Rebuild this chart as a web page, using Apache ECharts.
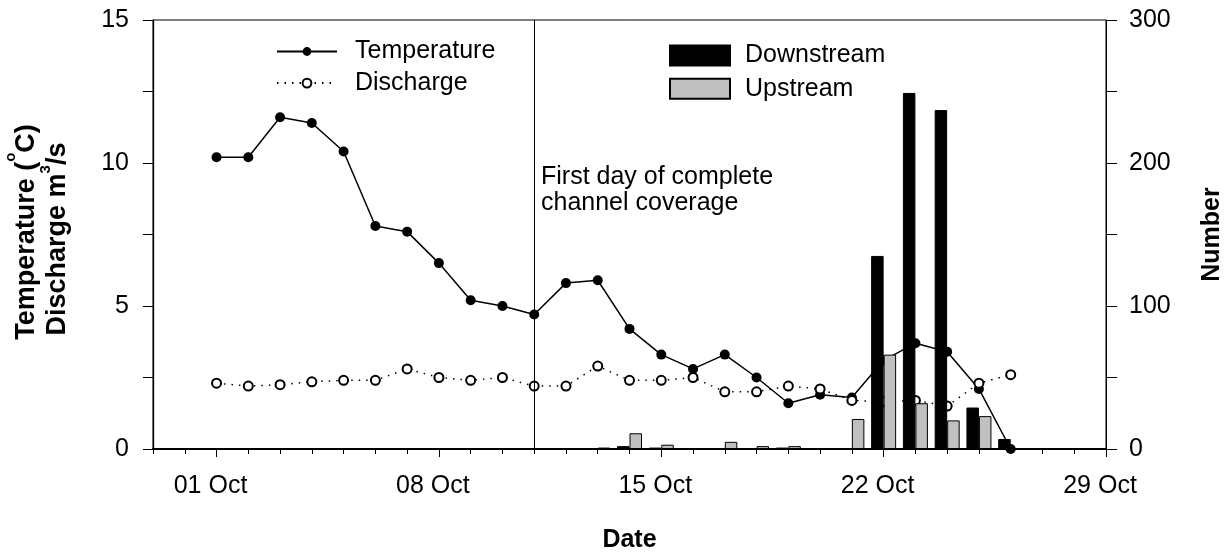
<!DOCTYPE html>
<html>
<head>
<meta charset="utf-8">
<script src="https://cdn.jsdelivr.net/npm/echarts@6/dist/echarts.min.js"></script>
<style>
  html, body { margin: 0; padding: 0; background: #fff; }
  #chart { width: 1231px; height: 552px; }
</style>
</head>
<body>
<div id="chart"></div>
<script>
// day of October for each daily reading
const days = [1, 2, 3, 4, 5, 6, 7, 8, 9, 10, 11, 12, 13, 14, 15, 16, 17, 18, 19, 20, 21, 22, 23, 24, 25, 26];
const temperature = [10.2, 10.2, 11.6, 11.4, 10.4, 7.8, 7.6, 6.5, 5.2, 5.0, 4.7, 5.8, 5.9, 4.2, 3.3, 2.8, 3.3, 2.5, 1.6, 1.9, 1.8, 3.1, 3.7, 3.4, 2.1, 0.0];
const discharge = [2.3, 2.2, 2.25, 2.35, 2.4, 2.4, 2.8, 2.5, 2.4, 2.5, 2.2, 2.2, 2.9, 2.4, 2.4, 2.5, 2.0, 2.0, 2.2, 2.1, 1.7, 1.65, 1.7, 1.5, 2.3, 2.6];

// fish counts
const barDays = [13, 14, 15, 16, 17, 18, 19, 20, 21, 22, 23, 24, 25, 26];
const downstream = [0, 2, 1, 0, 0, 0, 1, 0, 0, 135, 249, 237, 29, 7];
const upstream = [1, 11, 3, 0, 5, 2, 2, 0, 21, 66, 32, 20, 23, 0];

const dateTicks = [1, 8, 15, 22, 29];
const coverageDay = 11;

const font = 'Liberation Sans, Arial, sans-serif';
const pair = (xs, ys) => xs.map((d, i) => [d, ys[i]]);
const dayTicks = [];
for (let d = -1; d <= 29; d++) dayTicks.push(d);

const chart = echarts.init(document.getElementById('chart'));

const option = {
  animation: false,
  textStyle: { fontFamily: font, color: '#000' },
  grid: {
    left: 153, right: 125, top: 20, bottom: 103,
    outerBoundsMode: 'none', containLabel: false,
    show: true, borderColor: '#000', borderWidth: 1
  },
  legend: [
    {
      data: ['Temperature', 'Discharge'],
      orient: 'vertical', left: 271, top: 34,
      itemWidth: 60, itemHeight: 11, itemGap: 6.6,
      textStyle: { fontFamily: font, fontSize: 25, color: '#000', padding: [0, 0, 0, 13] }
    },
    {
      data: ['Downstream', 'Upstream'],
      icon: 'rect',
      orient: 'vertical', left: 664, top: 38,
      itemWidth: 60, itemHeight: 20, itemGap: 8.3,
      textStyle: { fontFamily: font, fontSize: 25, color: '#000', padding: [0, 0, 0, 10] }
    }
  ],
  xAxis: [
    {
      type: 'value', min: -1, max: 29,
      name: 'Date', nameLocation: 'middle', nameGap: 91,
      nameTextStyle: { fontFamily: font, fontSize: 25, fontWeight: 'bold', color: '#000', verticalAlign: 'middle' },
      axisLine: { onZero: false, lineStyle: { color: '#000', width: 2 } },
      axisTick: { customValues: dayTicks, length: 5, lineStyle: { color: '#000', width: 1 } },
      axisLabel: {
        customValues: dateTicks, margin: 25, fontSize: 25, color: '#000', fontFamily: font,
        padding: [0, 12, 0, 0],
        formatter: v => String(v).padStart(2, '0') + ' Oct'
      },
      splitLine: { show: false }
    },
    {
      // longer ticks under the labelled dates
      type: 'value', min: -1, max: 29, position: 'bottom',
      axisLine: { show: false, onZero: false },
      axisTick: { customValues: dateTicks, length: 8, lineStyle: { color: '#000', width: 1 } },
      axisLabel: { show: false },
      splitLine: { show: false }
    }
  ],
  yAxis: [
    {
      type: 'value', min: 0, max: 15, interval: 2.5, position: 'left',
      axisLine: { show: true, onZero: false, lineStyle: { color: '#000', width: 1.3 } },
      axisTick: { show: true, length: 10, lineStyle: { color: '#000' } },
      axisLabel: {
        margin: 24, fontSize: 25, color: '#000', fontFamily: font,
        formatter: v => (v % 5 === 0 ? String(v) : '')
      },
      splitLine: { show: false }
    },
    {
      type: 'value', min: 0, max: 300, interval: 50, position: 'right',
      name: 'Number', nameLocation: 'middle', nameRotate: 90, nameGap: 106,
      nameTextStyle: { fontFamily: font, fontSize: 25, fontWeight: 'bold', color: '#000', align: 'center', verticalAlign: 'middle' },
      axisLine: { show: true, onZero: false, lineStyle: { color: '#000', width: 1 } },
      axisTick: { show: true, length: 11, lineStyle: { color: '#000' } },
      axisLabel: {
        margin: 23, fontSize: 25, color: '#000', fontFamily: font,
        formatter: v => (v % 100 === 0 ? String(v) : '')
      },
      splitLine: { show: false }
    }
  ],
  series: [
    {
      name: 'Temperature', type: 'line', yAxisIndex: 0, z: 1,
      data: pair(days, temperature),
      symbol: 'circle', symbolSize: 10,
      itemStyle: { color: '#000' },
      lineStyle: { color: '#000', width: 1.5 },
      markLine: {
        silent: true, symbol: ['none', 'none'],
        label: { show: false },
        lineStyle: { color: '#000', width: 1, type: 'solid' },
        data: [{ xAxis: coverageDay }]
      }
    },
    {
      name: 'Discharge', type: 'line', yAxisIndex: 0, z: 1,
      data: pair(days, discharge),
      symbol: 'emptyCircle', symbolSize: 9,
      itemStyle: { color: '#000', borderWidth: 1.5 },
      lineStyle: { color: '#000', width: 1.5, type: [1.5, 6] }
    },
    {
      name: 'Downstream', type: 'bar', yAxisIndex: 1, z: 3,
      data: pair(barDays, downstream),
      barWidth: 12.5, barGap: '0%',
      itemStyle: { color: '#000', borderColor: '#000', borderWidth: 1 }
    },
    {
      name: 'Upstream', type: 'bar', yAxisIndex: 1, z: 3,
      data: pair(barDays, upstream),
      barWidth: 12.5, barGap: '0%',
      itemStyle: { color: '#c0c0c0', borderColor: '#000', borderWidth: 1 }
    }
  ],
  graphic: [
    {
      type: 'text', x: 541, y: 164,
      style: {
        text: 'First day of complete\nchannel coverage',
        font: '25px ' + font, fill: '#000', lineHeight: 26, verticalAlign: 'top'
      }
    },
    {
      type: 'text', x: 22, y: 232, rotation: Math.PI / 2,
      style: {
        text: '{t|Temperature (}{s|o}{t|C)}',
        align: 'center', verticalAlign: 'middle', fill: '#000',
        rich: {
          t: { fontFamily: font, fontSize: 27, fontWeight: 'bold', verticalAlign: 'bottom' },
          s: { fontFamily: font, fontSize: 15, fontWeight: 'bold', verticalAlign: 'top', padding: [0, 0, 22, 0] }
        }
      }
    },
    {
      type: 'text', x: 55, y: 239, rotation: Math.PI / 2,
      style: {
        text: '{t|Discharge m}{s|3}{t|/s}',
        align: 'center', verticalAlign: 'middle', fill: '#000',
        rich: {
          t: { fontFamily: font, fontSize: 27, fontWeight: 'bold', verticalAlign: 'bottom' },
          s: { fontFamily: font, fontSize: 15, fontWeight: 'bold', verticalAlign: 'top', padding: [0, 0, 18, 0] }
        }
      }
    }
  ]
};

chart.setOption(option);
</script>
</body>
</html>
